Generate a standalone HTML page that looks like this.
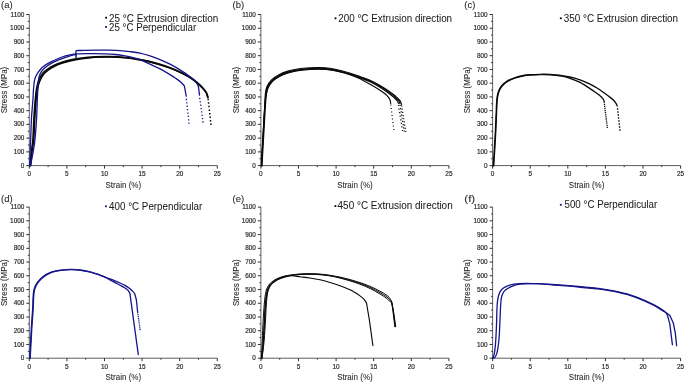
<!DOCTYPE html>
<html><head><meta charset="utf-8"><style>
html,body{margin:0;padding:0;background:#fff;}
svg{display:block;will-change:transform;}
text{font-family:"Liberation Sans",sans-serif;}
.tl{font-size:6.4px;fill:#2a2a2a;stroke:#2a2a2a;stroke-width:0.18px;}
.at{font-size:8.6px;fill:#2a2a2a;stroke:#2a2a2a;stroke-width:0.08px;}
.pl{font-size:9.5px;fill:#2a2a2a;stroke:#2a2a2a;stroke-width:0.1px;}
.lg{font-size:10px;fill:#1a1a1a;stroke:#1a1a1a;stroke-width:0.04px;}
</style></head><body>
<svg width="685" height="383" viewBox="0 0 685 383">
<path d="M29.3 14.5V165.6H217.3" fill="none" stroke="#5e5e5e" stroke-width="1"/>
<path d="M26.3 165.6H29.3M27.8 158.73H29.3M26.3 151.86H29.3M27.8 145H29.3M26.3 138.13H29.3M27.8 131.26H29.3M26.3 124.39H29.3M27.8 117.52H29.3M26.3 110.66H29.3M27.8 103.79H29.3M26.3 96.92H29.3M27.8 90.05H29.3M26.3 83.18H29.3M27.8 76.32H29.3M26.3 69.45H29.3M27.8 62.58H29.3M26.3 55.71H29.3M27.8 48.84H29.3M26.3 41.98H29.3M27.8 35.11H29.3M26.3 28.24H29.3M27.8 21.37H29.3M26.3 14.5H29.3M29.3 165.6V168.6M48.1 165.6V167.1M66.9 165.6V168.6M85.7 165.6V167.1M104.5 165.6V168.6M123.3 165.6V167.1M142.1 165.6V168.6M160.9 165.6V167.1M179.7 165.6V168.6M198.5 165.6V167.1M217.3 165.6V168.6" fill="none" stroke="#2e2e2e" stroke-width="1"/>
<text x="24.3" y="167.7" class="tl" text-anchor="end">0</text>
<text x="24.3" y="153.96" class="tl" text-anchor="end">100</text>
<text x="24.3" y="140.23" class="tl" text-anchor="end">200</text>
<text x="24.3" y="126.49" class="tl" text-anchor="end">300</text>
<text x="24.3" y="112.76" class="tl" text-anchor="end">400</text>
<text x="24.3" y="99.02" class="tl" text-anchor="end">500</text>
<text x="24.3" y="85.28" class="tl" text-anchor="end">600</text>
<text x="24.3" y="71.55" class="tl" text-anchor="end">700</text>
<text x="24.3" y="57.81" class="tl" text-anchor="end">800</text>
<text x="24.3" y="44.08" class="tl" text-anchor="end">900</text>
<text x="24.3" y="30.34" class="tl" text-anchor="end">1000</text>
<text x="24.3" y="16.6" class="tl" text-anchor="end">1100</text>
<text x="29.3" y="176" class="tl" text-anchor="middle">0</text>
<text x="66.9" y="176" class="tl" text-anchor="middle">5</text>
<text x="104.5" y="176" class="tl" text-anchor="middle">10</text>
<text x="142.1" y="176" class="tl" text-anchor="middle">15</text>
<text x="179.7" y="176" class="tl" text-anchor="middle">20</text>
<text x="217.3" y="176" class="tl" text-anchor="middle">25</text>
<text x="0" y="0" class="at" text-anchor="middle" transform="translate(123.3 187.6) scale(0.93 1)">Strain (%)</text>
<text x="0" y="0" class="at" text-anchor="middle" transform="translate(6.9 90.05) rotate(-90) scale(0.93 1)">Stress (MPa)</text>
<text x="0" y="0" class="pl" transform="translate(1 8.1) scale(1 0.88)">(a)</text>
<path d="M260.9 14.5V165.6H448.9" fill="none" stroke="#5e5e5e" stroke-width="1"/>
<path d="M257.9 165.6H260.9M259.4 158.73H260.9M257.9 151.86H260.9M259.4 145H260.9M257.9 138.13H260.9M259.4 131.26H260.9M257.9 124.39H260.9M259.4 117.52H260.9M257.9 110.66H260.9M259.4 103.79H260.9M257.9 96.92H260.9M259.4 90.05H260.9M257.9 83.18H260.9M259.4 76.32H260.9M257.9 69.45H260.9M259.4 62.58H260.9M257.9 55.71H260.9M259.4 48.84H260.9M257.9 41.98H260.9M259.4 35.11H260.9M257.9 28.24H260.9M259.4 21.37H260.9M257.9 14.5H260.9M260.9 165.6V168.6M279.7 165.6V167.1M298.5 165.6V168.6M317.3 165.6V167.1M336.1 165.6V168.6M354.9 165.6V167.1M373.7 165.6V168.6M392.5 165.6V167.1M411.3 165.6V168.6M430.1 165.6V167.1M448.9 165.6V168.6" fill="none" stroke="#2e2e2e" stroke-width="1"/>
<text x="255.9" y="167.7" class="tl" text-anchor="end">0</text>
<text x="255.9" y="153.96" class="tl" text-anchor="end">100</text>
<text x="255.9" y="140.23" class="tl" text-anchor="end">200</text>
<text x="255.9" y="126.49" class="tl" text-anchor="end">300</text>
<text x="255.9" y="112.76" class="tl" text-anchor="end">400</text>
<text x="255.9" y="99.02" class="tl" text-anchor="end">500</text>
<text x="255.9" y="85.28" class="tl" text-anchor="end">600</text>
<text x="255.9" y="71.55" class="tl" text-anchor="end">700</text>
<text x="255.9" y="57.81" class="tl" text-anchor="end">800</text>
<text x="255.9" y="44.08" class="tl" text-anchor="end">900</text>
<text x="255.9" y="30.34" class="tl" text-anchor="end">1000</text>
<text x="255.9" y="16.6" class="tl" text-anchor="end">1100</text>
<text x="260.9" y="176" class="tl" text-anchor="middle">0</text>
<text x="298.5" y="176" class="tl" text-anchor="middle">5</text>
<text x="336.1" y="176" class="tl" text-anchor="middle">10</text>
<text x="373.7" y="176" class="tl" text-anchor="middle">15</text>
<text x="411.3" y="176" class="tl" text-anchor="middle">20</text>
<text x="448.9" y="176" class="tl" text-anchor="middle">25</text>
<text x="0" y="0" class="at" text-anchor="middle" transform="translate(354.9 187.6) scale(0.93 1)">Strain (%)</text>
<text x="0" y="0" class="at" text-anchor="middle" transform="translate(238.5 90.05) rotate(-90) scale(0.93 1)">Stress (MPa)</text>
<text x="0" y="0" class="pl" transform="translate(232.6 8.1) scale(1 0.88)">(b)</text>
<path d="M492.6 14.5V165.6H680.6" fill="none" stroke="#5e5e5e" stroke-width="1"/>
<path d="M489.6 165.6H492.6M491.1 158.73H492.6M489.6 151.86H492.6M491.1 145H492.6M489.6 138.13H492.6M491.1 131.26H492.6M489.6 124.39H492.6M491.1 117.52H492.6M489.6 110.66H492.6M491.1 103.79H492.6M489.6 96.92H492.6M491.1 90.05H492.6M489.6 83.18H492.6M491.1 76.32H492.6M489.6 69.45H492.6M491.1 62.58H492.6M489.6 55.71H492.6M491.1 48.84H492.6M489.6 41.98H492.6M491.1 35.11H492.6M489.6 28.24H492.6M491.1 21.37H492.6M489.6 14.5H492.6M492.6 165.6V168.6M511.4 165.6V167.1M530.2 165.6V168.6M549 165.6V167.1M567.8 165.6V168.6M586.6 165.6V167.1M605.4 165.6V168.6M624.2 165.6V167.1M643 165.6V168.6M661.8 165.6V167.1M680.6 165.6V168.6" fill="none" stroke="#2e2e2e" stroke-width="1"/>
<text x="487.6" y="167.7" class="tl" text-anchor="end">0</text>
<text x="487.6" y="153.96" class="tl" text-anchor="end">100</text>
<text x="487.6" y="140.23" class="tl" text-anchor="end">200</text>
<text x="487.6" y="126.49" class="tl" text-anchor="end">300</text>
<text x="487.6" y="112.76" class="tl" text-anchor="end">400</text>
<text x="487.6" y="99.02" class="tl" text-anchor="end">500</text>
<text x="487.6" y="85.28" class="tl" text-anchor="end">600</text>
<text x="487.6" y="71.55" class="tl" text-anchor="end">700</text>
<text x="487.6" y="57.81" class="tl" text-anchor="end">800</text>
<text x="487.6" y="44.08" class="tl" text-anchor="end">900</text>
<text x="487.6" y="30.34" class="tl" text-anchor="end">1000</text>
<text x="487.6" y="16.6" class="tl" text-anchor="end">1100</text>
<text x="492.6" y="176" class="tl" text-anchor="middle">0</text>
<text x="530.2" y="176" class="tl" text-anchor="middle">5</text>
<text x="567.8" y="176" class="tl" text-anchor="middle">10</text>
<text x="605.4" y="176" class="tl" text-anchor="middle">15</text>
<text x="643" y="176" class="tl" text-anchor="middle">20</text>
<text x="680.6" y="176" class="tl" text-anchor="middle">25</text>
<text x="0" y="0" class="at" text-anchor="middle" transform="translate(586.6 187.6) scale(0.93 1)">Strain (%)</text>
<text x="0" y="0" class="at" text-anchor="middle" transform="translate(470.2 90.05) rotate(-90) scale(0.93 1)">Stress (MPa)</text>
<text x="0" y="0" class="pl" transform="translate(464.3 8.1) scale(1 0.88)">(c)</text>
<path d="M29.3 207.1V358.2H217.3" fill="none" stroke="#5e5e5e" stroke-width="1"/>
<path d="M26.3 358.2H29.3M27.8 351.33H29.3M26.3 344.46H29.3M27.8 337.6H29.3M26.3 330.73H29.3M27.8 323.86H29.3M26.3 316.99H29.3M27.8 310.12H29.3M26.3 303.26H29.3M27.8 296.39H29.3M26.3 289.52H29.3M27.8 282.65H29.3M26.3 275.78H29.3M27.8 268.92H29.3M26.3 262.05H29.3M27.8 255.18H29.3M26.3 248.31H29.3M27.8 241.44H29.3M26.3 234.58H29.3M27.8 227.71H29.3M26.3 220.84H29.3M27.8 213.97H29.3M26.3 207.1H29.3M29.3 358.2V361.2M48.1 358.2V359.7M66.9 358.2V361.2M85.7 358.2V359.7M104.5 358.2V361.2M123.3 358.2V359.7M142.1 358.2V361.2M160.9 358.2V359.7M179.7 358.2V361.2M198.5 358.2V359.7M217.3 358.2V361.2" fill="none" stroke="#2e2e2e" stroke-width="1"/>
<text x="24.3" y="360.3" class="tl" text-anchor="end">0</text>
<text x="24.3" y="346.56" class="tl" text-anchor="end">100</text>
<text x="24.3" y="332.83" class="tl" text-anchor="end">200</text>
<text x="24.3" y="319.09" class="tl" text-anchor="end">300</text>
<text x="24.3" y="305.36" class="tl" text-anchor="end">400</text>
<text x="24.3" y="291.62" class="tl" text-anchor="end">500</text>
<text x="24.3" y="277.88" class="tl" text-anchor="end">600</text>
<text x="24.3" y="264.15" class="tl" text-anchor="end">700</text>
<text x="24.3" y="250.41" class="tl" text-anchor="end">800</text>
<text x="24.3" y="236.68" class="tl" text-anchor="end">900</text>
<text x="24.3" y="222.94" class="tl" text-anchor="end">1000</text>
<text x="24.3" y="209.2" class="tl" text-anchor="end">1100</text>
<text x="29.3" y="368.6" class="tl" text-anchor="middle">0</text>
<text x="66.9" y="368.6" class="tl" text-anchor="middle">5</text>
<text x="104.5" y="368.6" class="tl" text-anchor="middle">10</text>
<text x="142.1" y="368.6" class="tl" text-anchor="middle">15</text>
<text x="179.7" y="368.6" class="tl" text-anchor="middle">20</text>
<text x="217.3" y="368.6" class="tl" text-anchor="middle">25</text>
<text x="0" y="0" class="at" text-anchor="middle" transform="translate(123.3 380.2) scale(0.93 1)">Strain (%)</text>
<text x="0" y="0" class="at" text-anchor="middle" transform="translate(6.9 282.65) rotate(-90) scale(0.93 1)">Stress (MPa)</text>
<text x="0" y="0" class="pl" transform="translate(1 201.9) scale(1 0.88)">(d)</text>
<path d="M260.9 207.1V358.2H448.9" fill="none" stroke="#5e5e5e" stroke-width="1"/>
<path d="M257.9 358.2H260.9M259.4 351.33H260.9M257.9 344.46H260.9M259.4 337.6H260.9M257.9 330.73H260.9M259.4 323.86H260.9M257.9 316.99H260.9M259.4 310.12H260.9M257.9 303.26H260.9M259.4 296.39H260.9M257.9 289.52H260.9M259.4 282.65H260.9M257.9 275.78H260.9M259.4 268.92H260.9M257.9 262.05H260.9M259.4 255.18H260.9M257.9 248.31H260.9M259.4 241.44H260.9M257.9 234.58H260.9M259.4 227.71H260.9M257.9 220.84H260.9M259.4 213.97H260.9M257.9 207.1H260.9M260.9 358.2V361.2M279.7 358.2V359.7M298.5 358.2V361.2M317.3 358.2V359.7M336.1 358.2V361.2M354.9 358.2V359.7M373.7 358.2V361.2M392.5 358.2V359.7M411.3 358.2V361.2M430.1 358.2V359.7M448.9 358.2V361.2" fill="none" stroke="#2e2e2e" stroke-width="1"/>
<text x="255.9" y="360.3" class="tl" text-anchor="end">0</text>
<text x="255.9" y="346.56" class="tl" text-anchor="end">100</text>
<text x="255.9" y="332.83" class="tl" text-anchor="end">200</text>
<text x="255.9" y="319.09" class="tl" text-anchor="end">300</text>
<text x="255.9" y="305.36" class="tl" text-anchor="end">400</text>
<text x="255.9" y="291.62" class="tl" text-anchor="end">500</text>
<text x="255.9" y="277.88" class="tl" text-anchor="end">600</text>
<text x="255.9" y="264.15" class="tl" text-anchor="end">700</text>
<text x="255.9" y="250.41" class="tl" text-anchor="end">800</text>
<text x="255.9" y="236.68" class="tl" text-anchor="end">900</text>
<text x="255.9" y="222.94" class="tl" text-anchor="end">1000</text>
<text x="255.9" y="209.2" class="tl" text-anchor="end">1100</text>
<text x="260.9" y="368.6" class="tl" text-anchor="middle">0</text>
<text x="298.5" y="368.6" class="tl" text-anchor="middle">5</text>
<text x="336.1" y="368.6" class="tl" text-anchor="middle">10</text>
<text x="373.7" y="368.6" class="tl" text-anchor="middle">15</text>
<text x="411.3" y="368.6" class="tl" text-anchor="middle">20</text>
<text x="448.9" y="368.6" class="tl" text-anchor="middle">25</text>
<text x="0" y="0" class="at" text-anchor="middle" transform="translate(354.9 380.2) scale(0.93 1)">Strain (%)</text>
<text x="0" y="0" class="at" text-anchor="middle" transform="translate(238.5 282.65) rotate(-90) scale(0.93 1)">Stress (MPa)</text>
<text x="0" y="0" class="pl" transform="translate(232.6 201.9) scale(1 0.88)">(e)</text>
<path d="M492.6 207.1V358.2H680.6" fill="none" stroke="#5e5e5e" stroke-width="1"/>
<path d="M489.6 358.2H492.6M491.1 351.33H492.6M489.6 344.46H492.6M491.1 337.6H492.6M489.6 330.73H492.6M491.1 323.86H492.6M489.6 316.99H492.6M491.1 310.12H492.6M489.6 303.26H492.6M491.1 296.39H492.6M489.6 289.52H492.6M491.1 282.65H492.6M489.6 275.78H492.6M491.1 268.92H492.6M489.6 262.05H492.6M491.1 255.18H492.6M489.6 248.31H492.6M491.1 241.44H492.6M489.6 234.58H492.6M491.1 227.71H492.6M489.6 220.84H492.6M491.1 213.97H492.6M489.6 207.1H492.6M492.6 358.2V361.2M511.4 358.2V359.7M530.2 358.2V361.2M549 358.2V359.7M567.8 358.2V361.2M586.6 358.2V359.7M605.4 358.2V361.2M624.2 358.2V359.7M643 358.2V361.2M661.8 358.2V359.7M680.6 358.2V361.2" fill="none" stroke="#2e2e2e" stroke-width="1"/>
<text x="487.6" y="360.3" class="tl" text-anchor="end">0</text>
<text x="487.6" y="346.56" class="tl" text-anchor="end">100</text>
<text x="487.6" y="332.83" class="tl" text-anchor="end">200</text>
<text x="487.6" y="319.09" class="tl" text-anchor="end">300</text>
<text x="487.6" y="305.36" class="tl" text-anchor="end">400</text>
<text x="487.6" y="291.62" class="tl" text-anchor="end">500</text>
<text x="487.6" y="277.88" class="tl" text-anchor="end">600</text>
<text x="487.6" y="264.15" class="tl" text-anchor="end">700</text>
<text x="487.6" y="250.41" class="tl" text-anchor="end">800</text>
<text x="487.6" y="236.68" class="tl" text-anchor="end">900</text>
<text x="487.6" y="222.94" class="tl" text-anchor="end">1000</text>
<text x="487.6" y="209.2" class="tl" text-anchor="end">1100</text>
<text x="492.6" y="368.6" class="tl" text-anchor="middle">0</text>
<text x="530.2" y="368.6" class="tl" text-anchor="middle">5</text>
<text x="567.8" y="368.6" class="tl" text-anchor="middle">10</text>
<text x="605.4" y="368.6" class="tl" text-anchor="middle">15</text>
<text x="643" y="368.6" class="tl" text-anchor="middle">20</text>
<text x="680.6" y="368.6" class="tl" text-anchor="middle">25</text>
<text x="0" y="0" class="at" text-anchor="middle" transform="translate(586.6 380.2) scale(0.93 1)">Strain (%)</text>
<text x="0" y="0" class="at" text-anchor="middle" transform="translate(470.2 282.65) rotate(-90) scale(0.93 1)">Stress (MPa)</text>
<text x="0" y="0" class="pl" textLength="10.9" lengthAdjust="spacingAndGlyphs" transform="translate(464.3 201.9) scale(1 0.88)">(f)</text>
<rect x="105.2" y="16.8" width="1.8" height="1.8" fill="#000"/>
<text x="109.1" y="21.9" class="lg" textLength="109.2" lengthAdjust="spacingAndGlyphs">25 °C Extrusion direction</text>
<rect x="105.2" y="26.1" width="1.8" height="1.8" fill="#15158a"/>
<text x="109.1" y="30.7" class="lg" textLength="87.1" lengthAdjust="spacingAndGlyphs">25 °C Perpendicular</text>
<rect x="334.6" y="17.4" width="1.8" height="1.8" fill="#000"/>
<text x="338.3" y="21.8" class="lg" textLength="113.8" lengthAdjust="spacingAndGlyphs">200 °C Extrusion direction</text>
<rect x="559.9" y="17.4" width="1.8" height="1.8" fill="#000"/>
<text x="563.8" y="21.8" class="lg" textLength="114.3" lengthAdjust="spacingAndGlyphs">350 °C Extrusion direction</text>
<rect x="105" y="205.4" width="1.8" height="1.8" fill="#15158a"/>
<text x="109.1" y="209.8" class="lg" textLength="93.2" lengthAdjust="spacingAndGlyphs">400 °C Perpendicular</text>
<rect x="334.5" y="205.2" width="1.8" height="1.8" fill="#000"/>
<text x="337.6" y="209.2" class="lg" textLength="115.1" lengthAdjust="spacingAndGlyphs">450 °C Extrusion direction</text>
<rect x="559.9" y="203.9" width="1.8" height="1.8" fill="#15158a"/>
<text x="564.5" y="208.3" class="lg" textLength="92.8" lengthAdjust="spacingAndGlyphs">500 °C Perpendicular</text>
<path d="M30.60 165.60C31.13 160.40 31.63 154.33 32.20 150.00C32.61 146.89 33.13 145.39 33.50 142.00C34.13 136.16 34.33 125.42 34.80 118.00C35.21 111.57 35.58 105.26 36.10 100.00C36.51 95.88 36.88 92.16 37.50 89.00C37.98 86.56 38.55 84.50 39.20 82.60C39.74 81.00 40.25 79.72 41.00 78.30C41.82 76.75 42.78 75.09 44.00 73.70C45.27 72.25 46.83 70.99 48.50 69.80C50.30 68.51 52.31 67.37 54.50 66.30C56.94 65.11 59.85 64.01 62.50 63.10C65.02 62.23 67.30 61.55 70.00 60.90C73.08 60.16 76.32 59.57 80.00 59.00C84.48 58.31 89.99 57.55 95.00 57.20C99.99 56.85 105.00 56.80 110.00 56.90C115.00 57.00 120.01 57.30 125.00 57.80C130.01 58.30 135.52 59.14 140.00 59.90C143.68 60.53 146.68 61.10 150.00 61.90C153.35 62.70 156.68 63.67 160.00 64.70C163.35 65.74 166.69 66.83 170.00 68.10C173.36 69.39 176.70 70.83 180.00 72.40C183.36 73.99 187.03 75.74 190.00 77.60C192.61 79.24 194.81 80.96 197.00 82.80C199.13 84.60 201.32 86.61 203.00 88.50C204.43 90.11 205.77 91.68 206.60 93.30C207.31 94.69 207.47 96.10 207.90 97.50" fill="none" stroke="#0a0a0a" stroke-width="1.6" stroke-linejoin="round" stroke-linecap="round"/>
<path d="M30.20 165.60C30.67 160.40 31.08 154.33 31.60 150.00C31.97 146.89 32.46 145.39 32.80 142.00C33.38 136.15 33.55 125.42 34.00 118.00C34.39 111.57 34.80 105.26 35.30 100.00C35.69 95.88 36.04 92.24 36.60 89.00C37.05 86.39 37.55 84.04 38.20 82.00C38.73 80.34 39.24 79.05 40.00 77.60C40.82 76.04 41.76 74.39 43.00 73.00C44.30 71.54 45.97 70.29 47.70 69.10C49.57 67.81 51.66 66.67 53.90 65.60C56.38 64.42 59.28 63.31 62.00 62.40C64.65 61.51 67.17 60.84 70.00 60.20C73.13 59.49 76.32 58.93 80.00 58.40C84.48 57.76 89.99 57.10 95.00 56.80C99.99 56.50 105.00 56.48 110.00 56.60C115.00 56.72 120.01 57.00 125.00 57.50C130.01 58.00 135.52 58.84 140.00 59.60C143.68 60.23 146.68 60.80 150.00 61.60C153.35 62.40 156.68 63.37 160.00 64.40C163.35 65.44 166.69 66.54 170.00 67.80C173.36 69.07 176.70 70.45 180.00 72.00C183.37 73.58 187.03 75.32 190.00 77.20C192.62 78.86 194.81 80.64 197.00 82.50C199.13 84.31 201.34 86.31 203.00 88.20C204.41 89.80 205.69 91.35 206.50 93.00C207.22 94.46 207.37 96.00 207.80 97.50" fill="none" stroke="#0a0a0a" stroke-width="1.7" stroke-linejoin="round" stroke-linecap="round"/>
<path d="M207.45 98.75h1.50v1.50h-1.50zM207.84 102.29h1.50v1.50h-1.50zM208.22 105.84h1.50v1.50h-1.50zM208.61 109.38h1.50v1.50h-1.50zM208.99 112.92h1.50v1.50h-1.50zM209.38 116.46h1.50v1.50h-1.50zM209.76 120.01h1.50v1.50h-1.50zM210.15 123.55h1.50v1.50h-1.50z" fill="#0a0a0a"/>
<path d="M29.80 165.60C29.93 160.40 30.04 154.34 30.20 150.00C30.32 146.89 30.45 145.38 30.60 142.00C30.86 136.14 31.07 125.42 31.50 118.00C31.87 111.57 32.53 105.40 32.90 100.00C33.20 95.60 33.30 91.46 33.60 88.00C33.83 85.35 34.00 83.02 34.40 81.00C34.72 79.41 35.00 78.19 35.60 76.80C36.26 75.26 37.25 73.70 38.30 72.20C39.43 70.60 40.68 68.91 42.20 67.50C43.79 66.02 45.76 64.76 47.70 63.60C49.66 62.42 51.68 61.53 53.90 60.50C56.40 59.33 59.27 57.96 62.00 57.00C64.64 56.07 67.56 55.35 70.00 54.80C72.02 54.34 73.73 54.13 75.60 53.80M75.60 53.80L76.10 50.60M76.10 50.60C79.07 50.50 81.95 50.38 85.00 50.30C88.24 50.21 91.33 50.12 95.00 50.10C99.49 50.07 105.51 50.10 110.00 50.20C113.67 50.29 116.67 50.37 120.00 50.60C123.34 50.83 126.67 51.18 130.00 51.60C133.34 52.02 136.69 52.39 140.00 53.10C143.36 53.82 146.69 54.83 150.00 55.90C153.36 56.99 156.69 58.23 160.00 59.60C163.36 60.99 166.70 62.51 170.00 64.20C173.37 65.93 176.71 67.85 180.00 69.90C183.38 72.01 187.28 74.64 190.00 76.70C192.00 78.21 193.67 79.46 195.00 80.90C196.10 82.10 197.00 83.46 197.60 84.60C198.05 85.46 198.20 86.20 198.50 87.00M198.50 87.00L199.50 95.10" fill="none" stroke="#15158a" stroke-width="1.3" stroke-linejoin="round" stroke-linecap="round"/>
<path d="M199.15 97.85h1.30v1.30h-1.30zM199.61 101.21h1.30v1.30h-1.30zM200.06 104.56h1.30v1.30h-1.30zM200.52 107.92h1.30v1.30h-1.30zM200.98 111.28h1.30v1.30h-1.30zM201.44 114.64h1.30v1.30h-1.30zM201.89 117.99h1.30v1.30h-1.30zM202.35 121.35h1.30v1.30h-1.30z" fill="#15158a"/>
<path d="M30.40 165.60C31.13 162.07 31.91 158.72 32.60 155.00C33.36 150.90 34.10 147.01 34.70 142.00C35.51 135.23 36.16 125.43 36.60 118.00C36.98 111.57 37.06 105.39 37.30 100.00C37.50 95.60 37.69 91.46 37.90 88.00C38.06 85.35 38.13 83.13 38.40 81.00C38.63 79.19 38.79 77.58 39.30 76.00C39.80 74.45 40.45 72.96 41.40 71.60C42.42 70.14 43.89 68.84 45.30 67.60C46.75 66.33 48.32 65.14 50.00 64.10C51.72 63.03 53.57 62.19 55.50 61.30C57.56 60.35 59.71 59.46 62.00 58.60C64.51 57.66 67.55 56.66 70.00 55.90C72.05 55.27 73.80 54.83 75.70 54.30M75.70 54.30L76.00 57.70L76.30 53.90M76.30 53.90C79.20 53.80 82.00 53.65 85.00 53.60C88.22 53.54 91.67 53.55 95.00 53.60C98.33 53.65 101.67 53.75 105.00 53.90C108.33 54.05 111.67 54.17 115.00 54.50C118.34 54.83 121.86 55.35 125.00 55.90C127.82 56.40 130.44 56.94 133.00 57.60C135.42 58.22 137.49 58.76 140.00 59.70C143.07 60.85 146.67 62.67 150.00 64.20C153.34 65.74 156.70 67.19 160.00 68.90C163.37 70.65 167.11 72.84 170.00 74.60C172.28 75.99 174.11 77.17 176.00 78.50C177.77 79.74 179.54 80.97 181.00 82.30C182.30 83.49 183.27 84.77 184.40 86.00M184.40 86.00L186.20 96.20" fill="none" stroke="#15158a" stroke-width="1.3" stroke-linejoin="round" stroke-linecap="round"/>
<path d="M185.75 98.85h1.30v1.30h-1.30zM186.12 102.24h1.30v1.30h-1.30zM186.49 105.62h1.30v1.30h-1.30zM186.86 109.01h1.30v1.30h-1.30zM187.24 112.39h1.30v1.30h-1.30zM187.61 115.78h1.30v1.30h-1.30zM187.98 119.16h1.30v1.30h-1.30zM188.35 122.55h1.30v1.30h-1.30z" fill="#15158a"/>
<path d="M261.52 165.60C262.19 153.73 262.86 141.36 263.52 130.00C264.13 119.57 264.62 106.10 265.32 100.00C265.63 97.30 265.89 96.14 266.30 94.20C266.72 92.21 266.94 90.16 267.80 88.20C268.76 86.02 270.19 83.68 272.00 81.80C273.96 79.77 276.62 78.07 279.30 76.60C282.15 75.04 285.53 73.79 288.70 72.80C291.79 71.84 294.74 71.24 298.10 70.70C301.91 70.09 306.51 69.73 310.40 69.50C313.90 69.29 317.07 69.23 320.40 69.30C323.73 69.37 327.08 69.47 330.40 69.90C333.75 70.33 337.08 71.10 340.40 71.90C343.75 72.70 347.11 73.71 350.40 74.70C353.64 75.68 356.78 76.65 360.00 77.80C363.32 78.98 366.72 80.15 370.00 81.70C373.39 83.30 376.89 85.37 380.00 87.30C382.86 89.08 385.55 90.99 388.00 92.80C390.18 94.41 392.29 96.05 394.00 97.60C395.40 98.87 396.88 100.15 397.60 101.30C398.08 102.07 398.13 102.77 398.40 103.50" fill="none" stroke="#0a0a0a" stroke-width="1.15" stroke-linejoin="round" stroke-linecap="round"/>
<path d="M397.90 104.90h1.20v1.20h-1.20zM398.47 108.47h1.20v1.20h-1.20zM399.04 112.04h1.20v1.20h-1.20zM399.61 115.61h1.20v1.20h-1.20zM400.19 119.19h1.20v1.20h-1.20zM400.76 122.76h1.20v1.20h-1.20zM401.33 126.33h1.20v1.20h-1.20zM401.90 129.90h1.20v1.20h-1.20z" fill="#0a0a0a"/>
<path d="M261.40 165.60C262.07 153.73 262.74 141.36 263.40 130.00C264.01 119.57 264.67 106.41 265.20 100.00C265.45 96.96 265.52 95.46 265.90 93.30C266.26 91.23 266.54 89.26 267.40 87.30C268.36 85.12 269.79 82.78 271.60 80.90C273.56 78.87 276.22 77.17 278.90 75.70C281.75 74.14 285.13 72.89 288.30 71.90C291.39 70.94 294.34 70.34 297.70 69.80C301.51 69.19 306.11 68.83 310.00 68.60C313.50 68.39 316.67 68.33 320.00 68.40C323.33 68.47 326.68 68.57 330.00 69.00C333.35 69.43 336.68 70.20 340.00 71.00C343.35 71.80 346.68 72.77 350.00 73.80C353.35 74.84 356.68 76.00 360.00 77.20C363.34 78.40 366.71 79.51 370.00 81.00C373.38 82.53 376.89 84.45 380.00 86.30C382.86 88.00 385.45 89.78 388.00 91.60C390.44 93.35 393.04 95.27 395.00 97.00C396.57 98.38 398.17 99.69 399.00 101.00C399.60 101.95 399.67 102.87 400.00 103.80" fill="none" stroke="#0a0a0a" stroke-width="1.15" stroke-linejoin="round" stroke-linecap="round"/>
<path d="M399.50 104.90h1.20v1.20h-1.20zM400.01 108.09h1.20v1.20h-1.20zM400.52 111.28h1.20v1.20h-1.20zM401.04 114.46h1.20v1.20h-1.20zM401.55 117.65h1.20v1.20h-1.20zM402.06 120.84h1.20v1.20h-1.20zM402.57 124.03h1.20v1.20h-1.20zM403.09 127.21h1.20v1.20h-1.20zM403.60 130.40h1.20v1.20h-1.20z" fill="#0a0a0a"/>
<path d="M261.28 165.60C261.95 153.73 262.62 141.36 263.28 130.00C263.89 119.57 264.69 106.67 265.08 100.00C265.27 96.67 265.14 94.84 265.50 92.50C265.82 90.37 266.14 88.46 267.00 86.50C267.96 84.32 269.39 81.98 271.20 80.10C273.16 78.07 275.82 76.37 278.50 74.90C281.35 73.34 284.73 72.09 287.90 71.10C290.99 70.14 293.94 69.54 297.30 69.00C301.11 68.39 305.71 68.03 309.60 67.80C313.10 67.59 316.27 67.53 319.60 67.60C322.93 67.67 326.28 67.77 329.60 68.20C332.95 68.63 336.28 69.40 339.60 70.20C342.95 71.00 346.25 71.95 349.60 73.00C353.05 74.08 356.57 75.37 360.00 76.60C363.37 77.81 366.71 78.86 370.00 80.30C373.38 81.78 376.89 83.62 380.00 85.40C382.86 87.03 385.46 88.73 388.00 90.50C390.45 92.20 392.91 94.02 395.00 95.80C396.86 97.39 398.89 98.95 400.00 100.60C400.88 101.90 401.07 103.27 401.60 104.60" fill="none" stroke="#0a0a0a" stroke-width="1.15" stroke-linejoin="round" stroke-linecap="round"/>
<path d="M401.10 105.40h1.20v1.20h-1.20zM401.60 108.59h1.20v1.20h-1.20zM402.10 111.78h1.20v1.20h-1.20zM402.60 114.96h1.20v1.20h-1.20zM403.10 118.15h1.20v1.20h-1.20zM403.60 121.34h1.20v1.20h-1.20zM404.10 124.53h1.20v1.20h-1.20zM404.60 127.71h1.20v1.20h-1.20zM405.10 130.90h1.20v1.20h-1.20z" fill="#0a0a0a"/>
<path d="M262.00 166.10C262.67 154.23 263.34 141.86 264.00 130.50C264.61 120.07 265.27 106.91 265.80 100.50C266.05 97.46 266.12 95.96 266.50 93.80C266.86 91.73 267.14 89.76 268.00 87.80C268.96 85.62 270.39 83.28 272.20 81.40C274.16 79.37 276.82 77.67 279.50 76.20C282.35 74.64 285.73 73.39 288.90 72.40C291.99 71.44 294.94 70.84 298.30 70.30C302.11 69.69 306.77 69.33 310.60 69.10C313.94 68.90 316.82 68.82 320.00 68.90C323.28 68.98 326.68 69.14 330.00 69.60C333.35 70.07 336.69 70.84 340.00 71.70C343.35 72.57 346.69 73.63 350.00 74.80C353.36 75.99 356.71 77.25 360.00 78.80C363.38 80.40 366.68 82.41 370.00 84.30C373.35 86.21 377.27 88.42 380.00 90.20C381.99 91.50 383.53 92.53 385.00 93.80C386.33 94.94 387.60 96.18 388.50 97.40C389.25 98.42 389.83 99.44 390.20 100.50C390.54 101.48 390.53 102.50 390.70 103.50" fill="none" stroke="#0a0a0a" stroke-width="1.15" stroke-linejoin="round" stroke-linecap="round"/>
<path d="M390.20 104.40h1.20v1.20h-1.20zM390.63 107.90h1.20v1.20h-1.20zM391.06 111.40h1.20v1.20h-1.20zM391.49 114.90h1.20v1.20h-1.20zM391.91 118.40h1.20v1.20h-1.20zM392.34 121.90h1.20v1.20h-1.20zM392.77 125.40h1.20v1.20h-1.20zM393.20 128.90h1.20v1.20h-1.20z" fill="#0a0a0a"/>
<path d="M493.30 165.60C493.63 160.40 493.98 155.35 494.30 150.00C494.64 144.33 494.99 138.57 495.30 132.50C495.63 125.94 495.94 117.78 496.20 112.00C496.39 107.77 496.44 104.03 496.70 101.00C496.89 98.85 497.06 97.23 497.40 95.50C497.71 93.91 497.98 92.50 498.60 91.00C499.29 89.33 500.24 87.55 501.50 86.00C502.88 84.29 504.63 82.64 506.70 81.30C509.06 79.77 512.27 78.57 515.10 77.60C517.84 76.66 520.78 75.99 523.40 75.50C525.71 75.07 527.57 74.90 530.00 74.70C532.98 74.46 536.67 74.35 540.00 74.30C543.33 74.25 547.09 74.26 550.00 74.40C552.26 74.51 554.00 74.70 556.00 74.90C558.00 75.10 559.86 75.29 562.00 75.60C564.48 75.96 567.20 76.36 570.00 77.00C573.16 77.72 576.71 78.62 580.00 79.80C583.38 81.01 586.99 82.72 590.00 84.20C592.57 85.46 594.70 86.59 597.00 88.00C599.37 89.45 601.87 91.29 604.00 92.80C605.82 94.10 607.44 95.28 609.00 96.50C610.42 97.61 611.81 98.62 613.00 99.80C614.13 100.92 615.25 102.26 616.00 103.40C616.59 104.30 616.87 105.13 617.30 106.00" fill="none" stroke="#0a0a0a" stroke-width="1.3" stroke-linejoin="round" stroke-linecap="round"/>
<path d="M616.90 108.30h1.40v1.40h-1.40zM617.23 111.30h1.40v1.40h-1.40zM617.56 114.30h1.40v1.40h-1.40zM617.89 117.30h1.40v1.40h-1.40zM618.21 120.30h1.40v1.40h-1.40zM618.54 123.30h1.40v1.40h-1.40zM618.87 126.30h1.40v1.40h-1.40zM619.20 129.30h1.40v1.40h-1.40z" fill="#0a0a0a"/>
<path d="M493.70 166.00C494.03 160.80 494.38 155.75 494.70 150.40C495.04 144.73 495.39 138.97 495.70 132.90C496.03 126.34 496.34 118.18 496.60 112.40C496.79 108.17 496.84 104.43 497.10 101.40C497.29 99.25 497.46 97.63 497.80 95.90C498.11 94.31 498.38 92.90 499.00 91.40C499.69 89.73 500.64 87.95 501.90 86.40C503.28 84.69 505.03 83.04 507.10 81.70C509.46 80.17 512.67 78.97 515.50 78.00C518.24 77.06 521.18 76.39 523.80 75.90C526.11 75.47 527.97 75.30 530.40 75.10C533.38 74.86 537.07 74.75 540.40 74.70C543.73 74.65 547.49 74.66 550.40 74.80C552.66 74.91 554.44 75.06 556.40 75.30C558.30 75.53 559.98 75.77 562.00 76.20C564.44 76.72 567.22 77.37 570.00 78.30C573.18 79.36 576.73 80.73 580.00 82.40C583.41 84.14 587.11 86.70 590.00 88.60C592.28 90.10 594.21 91.50 596.00 92.80C597.48 93.87 598.82 94.77 600.00 95.80C601.05 96.71 602.10 97.70 602.80 98.60C603.34 99.29 603.77 99.94 604.00 100.60C604.19 101.17 604.13 101.73 604.20 102.30" fill="none" stroke="#0a0a0a" stroke-width="1.3" stroke-linejoin="round" stroke-linecap="round"/>
<path d="M603.75 103.65h1.30v1.30h-1.30zM604.01 105.75h1.30v1.30h-1.30zM604.28 107.85h1.30v1.30h-1.30zM604.54 109.95h1.30v1.30h-1.30zM604.80 112.05h1.30v1.30h-1.30zM605.07 114.15h1.30v1.30h-1.30zM605.33 116.25h1.30v1.30h-1.30zM605.60 118.35h1.30v1.30h-1.30zM605.86 120.45h1.30v1.30h-1.30zM606.12 122.55h1.30v1.30h-1.30zM606.39 124.65h1.30v1.30h-1.30zM606.65 126.75h1.30v1.30h-1.30z" fill="#0a0a0a"/>
<path d="M29.70 358.20C30.20 348.80 30.67 338.82 31.20 330.00C31.67 322.21 32.38 313.98 32.70 308.00C32.92 303.89 32.89 300.73 33.10 297.60C33.28 295.01 33.35 292.60 33.80 290.50C34.18 288.75 34.71 287.26 35.40 285.80C36.06 284.40 36.89 283.13 37.80 281.90C38.72 280.66 39.76 279.49 40.90 278.40C42.08 277.28 43.36 276.24 44.80 275.30C46.37 274.29 48.17 273.33 50.00 272.60C51.89 271.85 53.73 271.37 56.00 270.90C58.89 270.31 63.09 269.84 66.00 269.60C68.25 269.42 69.86 269.36 72.00 269.40C74.48 269.45 77.20 269.63 80.00 270.00C83.16 270.42 87.25 271.23 90.00 271.90C91.97 272.38 93.34 272.87 95.00 273.40C96.67 273.93 98.34 274.49 100.00 275.10C101.67 275.72 103.33 276.46 105.00 277.10C106.66 277.73 108.34 278.27 110.00 278.90C111.67 279.54 113.34 280.22 115.00 280.90C116.67 281.58 118.34 282.25 120.00 283.00C121.68 283.75 123.36 284.47 125.00 285.40C126.70 286.36 128.59 287.57 130.00 288.70C131.18 289.64 132.15 290.68 133.00 291.60C133.70 292.36 134.20 293.07 134.80 293.80M134.80 293.80L136.40 300.00L137.70 312.60" fill="none" stroke="#15158a" stroke-width="1.3" stroke-linejoin="round" stroke-linecap="round"/>
<path d="M137.40 313.90h1.20v1.20h-1.20zM137.66 315.80h1.20v1.20h-1.20zM137.93 317.70h1.20v1.20h-1.20zM138.19 319.60h1.20v1.20h-1.20zM138.45 321.50h1.20v1.20h-1.20zM138.71 323.40h1.20v1.20h-1.20zM138.97 325.30h1.20v1.20h-1.20zM139.24 327.20h1.20v1.20h-1.20zM139.50 329.10h1.20v1.20h-1.20z" fill="#15158a"/>
<path d="M30.20 358.50C30.70 349.10 31.17 339.12 31.70 330.30C32.17 322.51 32.88 314.28 33.20 308.30C33.42 304.19 33.39 301.03 33.60 297.90C33.78 295.31 33.85 292.90 34.30 290.80C34.68 289.05 35.21 287.56 35.90 286.10C36.56 284.70 37.39 283.43 38.30 282.20C39.22 280.96 40.26 279.79 41.40 278.70C42.58 277.58 43.86 276.54 45.30 275.60C46.87 274.59 48.67 273.63 50.50 272.90C52.39 272.15 54.23 271.67 56.50 271.20C59.39 270.61 63.59 270.14 66.50 269.90C68.75 269.72 70.36 269.66 72.50 269.70C74.98 269.75 77.70 269.93 80.50 270.30C83.66 270.72 87.75 271.53 90.50 272.20C92.47 272.68 93.84 273.17 95.50 273.70C97.17 274.23 98.84 274.79 100.50 275.40C102.17 276.02 103.90 276.64 105.50 277.40C107.06 278.14 108.46 279.06 110.00 279.90C111.62 280.79 113.33 281.71 115.00 282.60C116.66 283.48 118.34 284.30 120.00 285.20C121.67 286.10 123.58 287.04 125.00 288.00C126.16 288.78 127.17 289.49 128.00 290.40C128.79 291.27 129.27 292.33 129.90 293.30M129.90 293.30L138.30 354.60" fill="none" stroke="#15158a" stroke-width="1.3" stroke-linejoin="round" stroke-linecap="round"/>
<path d="M261.30 358.20C261.47 355.47 261.64 352.87 261.80 350.00C261.98 346.83 262.11 343.91 262.30 340.00C262.56 334.48 262.85 326.19 263.20 320.00C263.50 314.64 263.85 309.22 264.20 305.00C264.46 301.92 264.63 299.55 265.00 297.00C265.34 294.63 265.67 292.19 266.30 290.20C266.83 288.54 267.46 287.12 268.30 285.80C269.11 284.53 270.00 283.46 271.20 282.40C272.63 281.13 274.51 279.89 276.50 278.90C278.75 277.78 281.56 276.87 284.10 276.20C286.53 275.56 288.86 275.26 291.40 274.90C294.14 274.51 297.02 274.20 300.00 274.00C303.20 273.78 306.67 273.68 310.00 273.70C313.33 273.72 316.67 273.83 320.00 274.10C323.34 274.37 326.67 274.80 330.00 275.30C333.34 275.81 336.68 276.42 340.00 277.13C343.34 277.84 346.68 278.65 350.00 279.56C353.35 280.47 356.68 281.46 360.00 282.59C363.35 283.72 366.70 284.92 370.00 286.33C373.37 287.78 377.12 289.66 380.00 291.20C382.28 292.42 384.31 293.50 386.00 294.70C387.37 295.68 388.58 296.57 389.50 297.70C390.35 298.75 390.77 300.03 391.40 301.20M391.40 301.20L392.80 310.00L394.80 326.70" fill="none" stroke="#0a0a0a" stroke-width="1.0" stroke-linejoin="round" stroke-linecap="round"/>
<path d="M261.60 358.20C261.87 355.47 262.15 352.87 262.40 350.00C262.68 346.83 262.94 343.91 263.20 340.00C263.57 334.48 263.94 326.19 264.30 320.00C264.61 314.64 264.88 309.06 265.20 305.00C265.42 302.22 265.60 300.31 265.90 298.00C266.20 295.71 266.45 293.22 267.00 291.20C267.47 289.49 268.01 287.99 268.80 286.60C269.56 285.27 270.42 284.13 271.60 283.00C272.99 281.67 274.85 280.35 276.80 279.30C278.96 278.14 281.63 277.19 284.10 276.50C286.50 275.83 288.86 275.56 291.40 275.20C294.14 274.81 297.02 274.50 300.00 274.30C303.20 274.08 306.67 273.98 310.00 274.00C313.33 274.02 316.67 274.13 320.00 274.40C323.34 274.67 326.68 275.07 330.00 275.60C333.34 276.13 336.68 276.84 340.00 277.60C343.34 278.37 346.68 279.24 350.00 280.20C353.35 281.17 356.69 282.21 360.00 283.40C363.35 284.61 366.70 285.89 370.00 287.40C373.37 288.95 377.12 290.96 380.00 292.60C382.28 293.89 384.31 295.06 386.00 296.30C387.37 297.30 388.51 298.28 389.50 299.30C390.36 300.19 390.97 301.10 391.70 302.00M391.70 302.00L393.10 310.00L395.30 326.80" fill="none" stroke="#0a0a0a" stroke-width="1.0" stroke-linejoin="round" stroke-linecap="round"/>
<path d="M261.90 358.20C262.30 355.47 262.73 352.87 263.10 350.00C263.51 346.84 263.86 343.91 264.20 340.00C264.68 334.48 265.13 326.19 265.50 320.00C265.82 314.64 266.02 309.06 266.30 305.00C266.49 302.23 266.64 300.24 266.90 298.00C267.15 295.92 267.34 293.84 267.80 292.00C268.21 290.37 268.70 288.91 269.40 287.50C270.10 286.11 270.87 284.80 272.00 283.60C273.31 282.21 275.11 280.88 277.00 279.80C279.09 278.61 281.68 277.60 284.10 276.90C286.48 276.21 288.86 275.97 291.40 275.60C294.14 275.20 297.02 274.82 300.00 274.60C303.20 274.37 306.67 274.28 310.00 274.30C313.33 274.32 316.67 274.43 320.00 274.70C323.34 274.97 326.68 275.34 330.00 275.90C333.35 276.46 336.68 277.25 340.00 278.07C343.35 278.90 346.68 279.82 350.00 280.84C353.35 281.87 356.69 282.95 360.00 284.21C363.36 285.49 366.71 286.86 370.00 288.47C373.38 290.11 377.12 292.27 380.00 294.00C382.28 295.37 384.38 296.66 386.00 297.90C387.22 298.83 387.99 299.77 389.00 300.60C389.96 301.39 390.93 302.07 391.90 302.80M391.90 302.80L393.30 310.00L395.70 326.30" fill="none" stroke="#0a0a0a" stroke-width="1.0" stroke-linejoin="round" stroke-linecap="round"/>
<path d="M261.90 358.80C262.17 356.07 262.45 353.47 262.70 350.60C262.98 347.43 263.24 344.51 263.50 340.60C263.87 335.08 264.24 326.79 264.60 320.60C264.91 315.24 265.18 309.66 265.50 305.60C265.72 302.82 265.90 300.91 266.20 298.60C266.50 296.31 266.75 293.82 267.30 291.80C267.77 290.09 268.31 288.59 269.10 287.20C269.86 285.87 270.72 284.73 271.90 283.60C273.29 282.27 275.15 280.95 277.10 279.90C279.26 278.74 281.93 277.79 284.40 277.10C286.80 276.43 289.18 275.87 291.70 275.80C294.37 275.72 297.10 276.45 300.00 276.80C303.18 277.18 306.67 277.50 310.00 278.00C313.34 278.50 316.68 279.06 320.00 279.80C323.35 280.55 326.68 281.52 330.00 282.50C333.34 283.49 336.69 284.49 340.00 285.70C343.36 286.92 347.27 288.48 350.00 289.80C351.99 290.76 353.35 291.60 355.00 292.60C356.69 293.63 358.57 294.84 360.00 295.90C361.15 296.76 362.10 297.54 363.00 298.40C363.82 299.18 364.59 299.94 365.20 300.80C365.78 301.62 366.13 302.53 366.60 303.40M366.60 303.40L367.40 308.50L369.10 318.20L372.90 345.50" fill="none" stroke="#0a0a0a" stroke-width="1.15" stroke-linejoin="round" stroke-linecap="round"/>
<path d="M492.80 358.20C493.23 357.03 493.73 356.21 494.10 354.70C494.74 352.11 495.13 348.01 495.50 343.90C495.99 338.48 496.23 331.31 496.50 325.00C496.77 318.68 496.76 310.84 497.10 306.00C497.31 302.99 497.51 300.85 497.90 298.70C498.22 296.95 498.60 295.38 499.10 294.00C499.53 292.84 499.90 291.87 500.60 290.90C501.40 289.79 502.61 288.65 503.80 287.80C504.98 286.95 506.21 286.36 507.70 285.80C509.50 285.12 511.88 284.57 513.90 284.20C515.78 283.86 517.40 283.73 519.40 283.60C521.79 283.44 524.68 283.40 527.30 283.40C529.88 283.40 532.49 283.53 535.00 283.60C537.39 283.67 539.46 283.70 542.00 283.80C545.04 283.92 547.98 284.04 552.00 284.30C558.10 284.69 567.18 285.40 575.00 286.10C583.16 286.83 592.74 287.63 600.00 288.60C605.65 289.35 610.02 290.07 615.00 291.10C620.02 292.14 625.05 293.25 630.00 294.80C635.05 296.38 640.54 298.57 645.00 300.50C648.71 302.11 651.89 303.69 655.00 305.40C657.85 306.97 661.01 308.87 663.00 310.30C664.28 311.22 665.24 311.90 666.00 312.80C666.64 313.56 666.93 314.40 667.40 315.20M667.40 315.20L669.80 323.90L672.40 344.60" fill="none" stroke="#15158a" stroke-width="1.3" stroke-linejoin="round" stroke-linecap="round"/>
<path d="M492.80 358.20C493.47 358.00 494.22 358.10 494.80 357.60C495.66 356.86 496.23 355.22 496.80 353.40C497.73 350.44 498.29 345.84 498.80 341.20C499.47 335.12 499.68 326.34 500.00 320.00C500.26 314.85 500.31 310.03 500.60 306.00C500.82 302.93 500.96 300.09 501.40 297.90C501.71 296.35 502.06 295.19 502.60 294.00C503.11 292.87 503.68 291.80 504.50 290.90C505.36 289.95 506.49 289.24 507.70 288.50C509.08 287.65 510.81 286.86 512.40 286.20C513.95 285.56 515.31 284.99 517.10 284.60C519.37 284.11 522.21 283.96 525.00 283.80C528.13 283.63 531.96 283.67 535.00 283.70C537.54 283.72 539.46 283.74 542.00 283.90C545.04 284.10 547.98 284.54 552.00 284.90C558.09 285.44 567.18 286.00 575.00 286.70C583.16 287.43 592.74 288.23 600.00 289.20C605.65 289.95 610.02 290.67 615.00 291.70C620.02 292.74 625.05 293.85 630.00 295.40C635.05 296.98 640.54 299.17 645.00 301.10C648.71 302.71 651.89 304.29 655.00 306.00C657.85 307.57 660.71 309.54 663.00 310.90C664.71 311.92 666.26 312.59 667.50 313.50C668.50 314.24 669.17 315.03 670.00 315.80M670.00 315.80L673.30 323.00L675.30 333.00L676.60 345.60" fill="none" stroke="#15158a" stroke-width="1.3" stroke-linejoin="round" stroke-linecap="round"/>
</svg></body></html>
